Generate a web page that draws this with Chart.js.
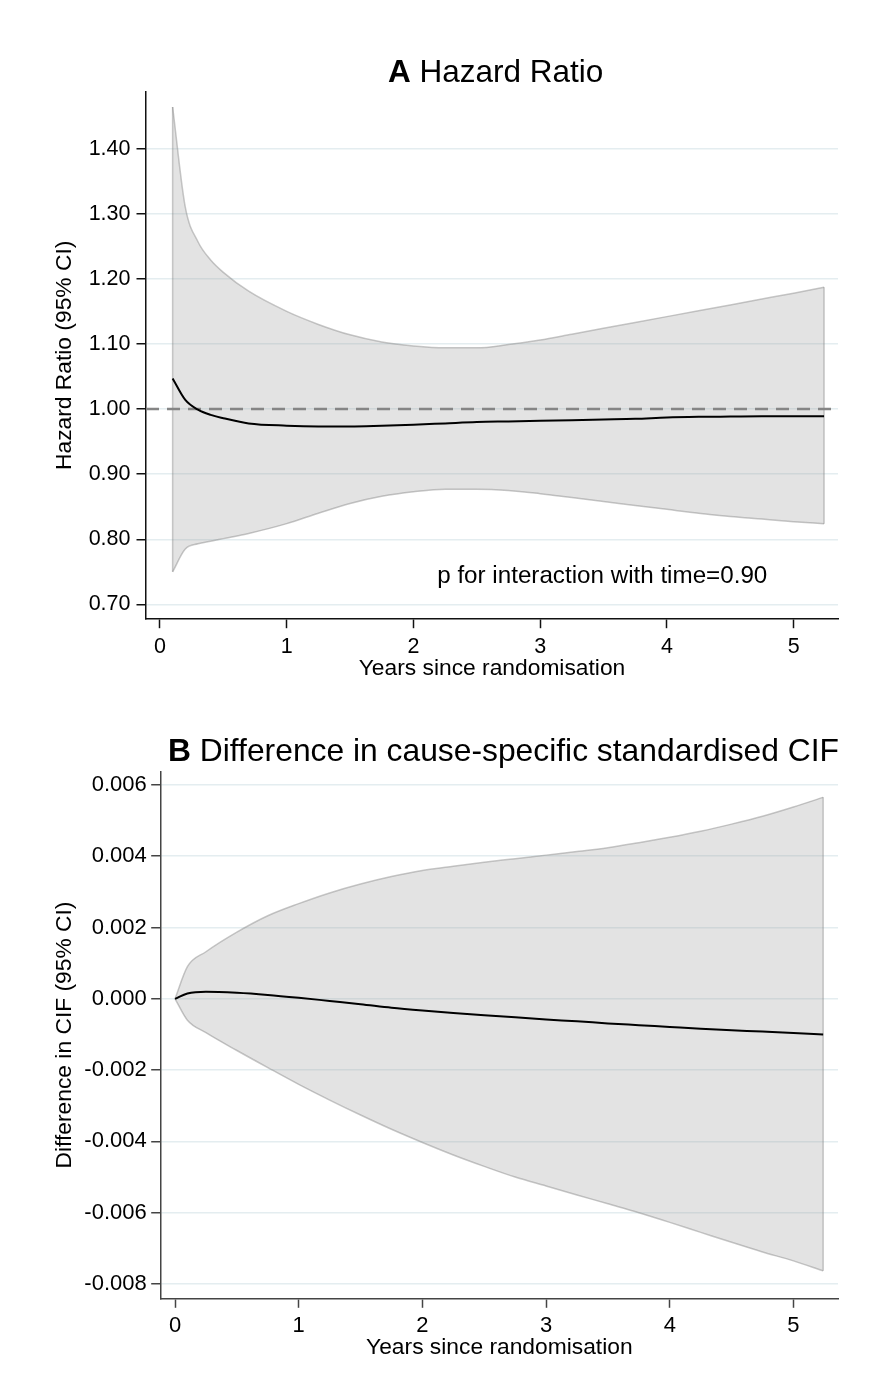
<!DOCTYPE html>
<html>
<head>
<meta charset="utf-8">
<script src="https://cdn.jsdelivr.net/npm/chart.js@4.4.1/dist/chart.umd.min.js"></script>
<style>
  body { margin: 0; background: #fff; width: 871px; height: 1398px; position: relative; overflow: hidden;
         font-family: "Liberation Sans", Arial, sans-serif; }
  .panel { position: absolute; left: 0; width: 871px; }
  .title { position: absolute; line-height: 1; color: #000; white-space: nowrap; z-index: 2; }
</style>
</head>
<body>
<div class="panel" style="top:0; height:700px;"><canvas id="hrChart" width="871" height="700"></canvas></div>
<div class="panel" style="top:700px; height:698px;"><canvas id="cifChart" width="871" height="698"></canvas></div>
<div class="title" style="left:388px; top:56px; font-size:31.5px;"><b>A</b> Hazard Ratio</div>
<div class="title" style="left:168px; top:735px; font-size:31.8px;"><b>B</b> Difference in cause-specific standardised CIF</div>

<script>
// Panel A - hazard ratio over time
const hrYears    = [0.1, 0.2, 0.3, 0.4, 0.5, 0.7, 1.0, 1.25, 1.5, 1.75, 2.0, 2.25, 2.5, 2.75, 3.0, 3.25, 3.5, 3.75, 4.0, 4.25, 4.5, 4.75, 5.0, 5.24];
const hrEstimate = [1.047, 1.014, 0.999, 0.991, 0.986, 0.978, 0.9745, 0.9734, 0.9734, 0.9745, 0.976, 0.978, 0.980, 0.981, 0.982, 0.983, 0.984, 0.985, 0.987, 0.988, 0.9885, 0.989, 0.989, 0.989];
const hrUpper    = [1.464, 1.310, 1.257, 1.229, 1.210, 1.181, 1.150, 1.130, 1.114, 1.103, 1.097, 1.094, 1.094, 1.099, 1.106, 1.115, 1.124, 1.133, 1.142, 1.151, 1.160, 1.169, 1.178, 1.187];
const hrLower    = [0.750, 0.785, 0.793, 0.797, 0.801, 0.809, 0.824, 0.840, 0.855, 0.866, 0.873, 0.877, 0.877, 0.875, 0.870, 0.864, 0.858, 0.852, 0.846, 0.840, 0.835, 0.831, 0.827, 0.824];
const hrTicks    = [0.70, 0.80, 0.90, 1.00, 1.10, 1.20, 1.30, 1.40];
const hrReference = 1.00;

// Panel B - difference in standardised CIF
const cifYears    = [0, 0.1, 0.25, 0.5, 0.75, 1.0, 1.25, 1.5, 1.75, 2.0, 2.25, 2.5, 2.75, 3.0, 3.25, 3.5, 3.75, 4.0, 4.25, 4.5, 4.75, 5.0, 5.24];
const cifEstimate = [0, 0.00015, 0.0002, 0.00017, 0.00011, 0.00003, -0.00006, -0.00015, -0.00025, -0.00033, -0.0004, -0.00046, -0.00052, -0.00058, -0.00063, -0.00069, -0.00074, -0.00079, -0.00084, -0.00088, -0.00092, -0.00096, -0.001];
const cifUpper    = [0, 0.0009, 0.00132, 0.00187, 0.00233, 0.00267, 0.00297, 0.00322, 0.00343, 0.0036, 0.00372, 0.00383, 0.00393, 0.00403, 0.00413, 0.00424, 0.00438, 0.00453, 0.0047, 0.0049, 0.00512, 0.00538, 0.00565];
const cifLower    = [0, -0.0006, -0.00095, -0.00145, -0.00193, -0.0024, -0.00284, -0.00326, -0.00366, -0.00403, -0.00438, -0.0047, -0.005, -0.00525, -0.0055, -0.00575, -0.006, -0.00627, -0.00655, -0.00683, -0.0071, -0.00735, -0.00763];
const cifTicks    = [-0.008, -0.006, -0.004, -0.002, 0, 0.002, 0.004, 0.006];

const yearTicks = [0, 1, 2, 3, 4, 5];

const FONT = '"Liberation Sans", Arial, sans-serif';
const GRID = '#e4edf0';
const BAND = 'rgba(150,150,150,0.27)';
const BAND_EDGE = 'rgba(130,130,130,0.45)';

const toPoints = (xs, ys) => xs.map((x, i) => ({ x: x, y: ys[i] }));

// text annotation placed in data coordinates
const noteLabel = {
    id: 'noteLabel',
    afterDatasetsDraw(chart, args, opts) {
        if (!opts || !opts.text) return;
        const ctx = chart.ctx;
        ctx.save();
        ctx.font = opts.size + 'px ' + FONT;
        ctx.fillStyle = '#000';
        ctx.textAlign = 'center';
        ctx.textBaseline = 'middle';
        ctx.fillText(opts.text, chart.scales.x.getPixelForValue(opts.x), chart.scales.y.getPixelForValue(opts.y));
        ctx.restore();
    }
};

function drawPanel(canvasId, cfg) {
    const upper = toPoints(cfg.years, cfg.upper);
    const lower = toPoints(cfg.years, cfg.lower);
    const last = cfg.years.length - 1;

    const datasets = [
        { data: toPoints(cfg.years, cfg.estimate), borderColor: '#000', borderWidth: 2, pointRadius: 0,
          cubicInterpolationMode: 'monotone', fill: false, order: 0 },
        // closing edges of the band at first and last time point
        { data: [upper[0], lower[0]], borderColor: BAND_EDGE, borderWidth: 1.5, pointRadius: 0, fill: false, order: 2 },
        { data: [upper[last], lower[last]], borderColor: BAND_EDGE, borderWidth: 1.5, pointRadius: 0, fill: false, order: 2 },
        { data: lower, borderColor: BAND_EDGE, borderWidth: 1.5, pointRadius: 0, fill: '+1', backgroundColor: BAND,
          cubicInterpolationMode: 'monotone', order: 3 },
        { data: upper, borderColor: BAND_EDGE, borderWidth: 1.5, pointRadius: 0, fill: false,
          cubicInterpolationMode: 'monotone', order: 4 }
    ];
    if (cfg.reference !== undefined) {
        datasets.push({ data: [{ x: cfg.xMin, y: cfg.reference }, { x: cfg.xMax, y: cfg.reference }],
            borderColor: '#858585', borderWidth: 2.5, borderDash: [13, 8], pointRadius: 0, fill: false, order: 1 });
    }

    const tickFont = { size: cfg.fontSize, family: FONT };
    const titleFont = { size: cfg.titleSize, family: FONT };

    return new Chart(document.getElementById(canvasId), {
        type: 'line',
        data: { datasets: datasets },
        plugins: [noteLabel],
        options: {
            responsive: false,
            animation: false,
            events: [],
            layout: { padding: { top: cfg.areaTop, right: 871 - cfg.areaRight, bottom: cfg.padBottom, left: 0 } },
            plugins: {
                legend: { display: false },
                tooltip: { enabled: false },
                noteLabel: cfg.note || {}
            },
            scales: {
                x: {
                    type: 'linear', min: cfg.xMin, max: cfg.xMax,
                    afterBuildTicks: s => { s.ticks = yearTicks.map(v => ({ value: v })); },
                    afterFit: s => { s.height = cfg.xAxisHeight; },
                    grid: { drawOnChartArea: false, tickLength: 9.5, tickColor: cfg.axisColor, tickWidth: 1.5 },
                    border: { color: cfg.axisColor, width: 1.5 },
                    ticks: { color: '#000', font: tickFont, padding: cfg.xPad, maxRotation: 0, callback: v => String(v) },
                    title: { display: true, text: 'Years since randomisation', color: '#000', font: titleFont, padding: 0 }
                },
                y: {
                    type: 'linear', min: cfg.yMin, max: cfg.yMax,
                    afterBuildTicks: s => { s.ticks = cfg.ticks.map(v => ({ value: v })); },
                    afterFit: s => { s.width = cfg.yAxisWidth; },
                    grid: { color: GRID, lineWidth: 1.5, tickLength: 9.5, tickColor: cfg.axisColor, tickWidth: 1.5 },
                    border: { color: cfg.axisColor, width: 1.5 },
                    ticks: { color: '#000', font: tickFont, padding: cfg.yPad, callback: v => v.toFixed(cfg.decimals) },
                    title: { display: true, text: cfg.yTitle, color: '#000', font: titleFont, padding: { top: 51, bottom: 0 } }
                }
            }
        }
    });
}

drawPanel('hrChart', {
    years: hrYears, estimate: hrEstimate, upper: hrUpper, lower: hrLower, reference: hrReference,
    ticks: hrTicks, decimals: 2, yTitle: 'Hazard Ratio (95% CI)',
    xMin: -0.11, xMax: 5.35, yMin: 0.678, yMax: 1.487,
    areaTop: 92, areaRight: 838, padBottom: 18.1, xAxisHeight: 63.2, yAxisWidth: 146,
    xPad: 6, yPad: 6, fontSize: 21.5, titleSize: 22.8, axisColor: '#111',
    note: { text: 'p for interaction with time=0.90', x: 3.49, y: 0.743, size: 24.2 }
});

drawPanel('cifChart', {
    years: cifYears, estimate: cifEstimate, upper: cifUpper, lower: cifLower,
    ticks: cifTicks, decimals: 3, yTitle: 'Difference in CIF (95% CI)',
    xMin: -0.116, xMax: 5.36, yMin: -0.0084, yMax: 0.00637,
    areaTop: 71.7, areaRight: 838, padBottom: 37.1, xAxisHeight: 62.6, yAxisWidth: 160.7,
    xPad: 5.3, yPad: 4.5, fontSize: 22, titleSize: 22.8, axisColor: '#444'
});
</script>
</body>
</html>
